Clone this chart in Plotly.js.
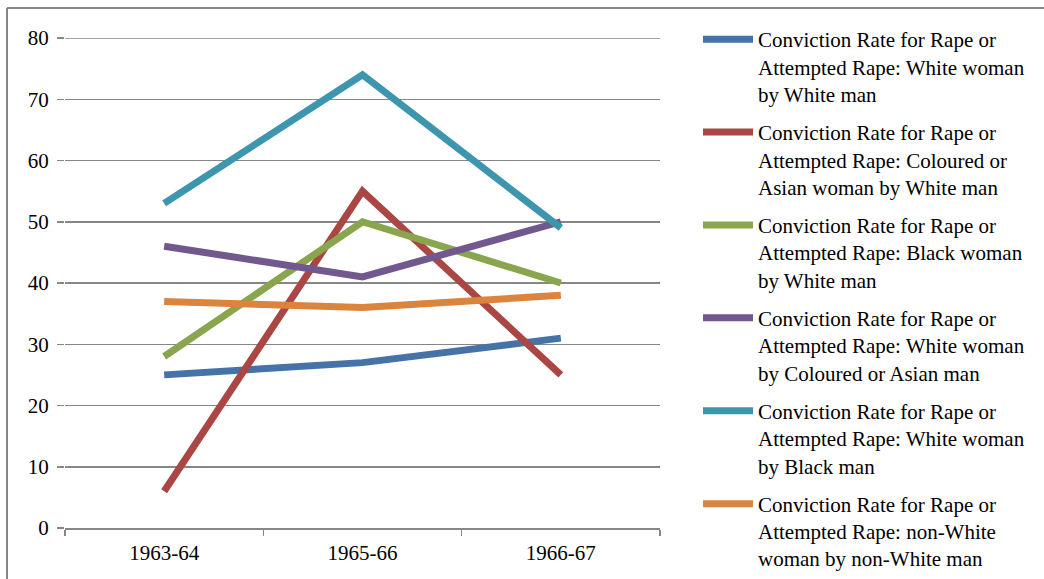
<!DOCTYPE html>
<html>
<head>
<meta charset="utf-8">
<script src="https://cdn.plot.ly/plotly-3.0.1.min.js"></script>
<style>html,body{margin:0;padding:0;background:#fff;}#chart{width:1044px;height:579px;}</style>
</head>
<body>
<div id="chart"></div>
<script>
var periods = ["1963-64", "1965-66", "1966-67"];
var seriesNames = [
  "Conviction Rate for Rape or<br>Attempted Rape: White woman<br>by White man",
  "Conviction Rate for Rape or<br>Attempted Rape: Coloured or<br>Asian woman by White man",
  "Conviction Rate for Rape or<br>Attempted Rape: Black woman<br>by White man",
  "Conviction Rate for Rape or<br>Attempted Rape: White woman<br>by Coloured or Asian man",
  "Conviction Rate for Rape or<br>Attempted Rape: White woman<br>by Black man",
  "Conviction Rate for Rape or<br>Attempted Rape: non-White<br>woman by non-White man"
];
var whiteWomanByWhiteMan = [25, 27, 31];
var colouredAsianWomanByWhiteMan = [6, 55, 25];
var blackWomanByWhiteMan = [28, 50, 40];
var whiteWomanByColouredAsianMan = [46, 41, 50];
var whiteWomanByBlackMan = [53, 74, 49];
var nonWhiteWomanByNonWhiteMan = [37, 36, 38];
var yTicks = [0, 10, 20, 30, 40, 50, 60, 70, 80];
var yMax = 80;

var allSeries = [whiteWomanByWhiteMan, colouredAsianWomanByWhiteMan, blackWomanByWhiteMan,
  whiteWomanByColouredAsianMan, whiteWomanByBlackMan, nonWhiteWomanByNonWhiteMan];
var colors = ["#4572A7", "#AA4643", "#89A54E", "#71588F", "#3D96AE", "#DB843D"];

var FONT = "'Liberation Serif', 'Times New Roman', serif";

var traces = allSeries.map(function (vals, i) {
  return {
    type: "scatter", mode: "lines",
    x: periods, y: vals, name: seriesNames[i],
    legendgroup: "g" + i,
    line: {color: colors[i], width: 7},
    hoverinfo: "x+y"
  };
});

var W = 1044, H = 579, L = 65, R = 384, T = 38, B = 51;
var pw = W - L - R, ph = H - T - B;
function px(x) { return (x - L) / pw; }
function py(y) { return (H - B - y) / ph; }

var layout = {
  width: W, height: H,
  margin: {l: L, r: R, t: T, b: B, pad: 0},
  paper_bgcolor: "#ffffff", plot_bgcolor: "#ffffff",
  font: {family: FONT, size: 21, color: "#000"},
  showlegend: true,
  legend: {
    x: px(698), y: py(26), xanchor: "left", yanchor: "top",
    font: {family: FONT, size: 21, color: "#000"},
    valign: "top", tracegroupgap: 8, itemwidth: 50,
    maxheight: 575, bgcolor: "rgba(0,0,0,0)"
  },
  xaxis: {
    type: "category", range: [-0.5, 2.5],
    showgrid: false, zeroline: false,
    showline: true, linecolor: "#868686", linewidth: 1.5,
    ticks: "outside", ticklen: 6, tickcolor: "#868686", tickwidth: 1.5,
    tickson: "boundaries", ticklabelstandoff: 5,
    tickfont: {family: FONT, size: 21, color: "#000"},
    fixedrange: true
  },
  yaxis: {
    range: [0, yMax], tickvals: yTicks,
    showgrid: true, gridcolor: "#868686", gridwidth: 1.5,
    zeroline: false, showline: false,
    ticks: "outside", ticklen: 7, tickcolor: "#868686", tickwidth: 1.5,
    ticklabelstandoff: 4,
    tickfont: {family: FONT, size: 21, color: "#000"},
    fixedrange: true
  },
  shapes: [
    {type: "line", xref: "paper", yref: "y", x0: 0, x1: 1, y0: yMax, y1: yMax, layer: "below", line: {color: "#868686", width: 1.5}},
    {type: "line", xref: "paper", yref: "paper", x0: px(7), x1: px(1060), y0: py(8), y1: py(8), line: {color: "#868686", width: 2}},
    {type: "line", xref: "paper", yref: "paper", x0: px(7), x1: px(7), y0: py(8), y1: py(600), line: {color: "#868686", width: 2}}
  ]
};

Plotly.newPlot("chart", traces, layout, {displayModeBar: false, staticPlot: true});
</script>
</body>
</html>
